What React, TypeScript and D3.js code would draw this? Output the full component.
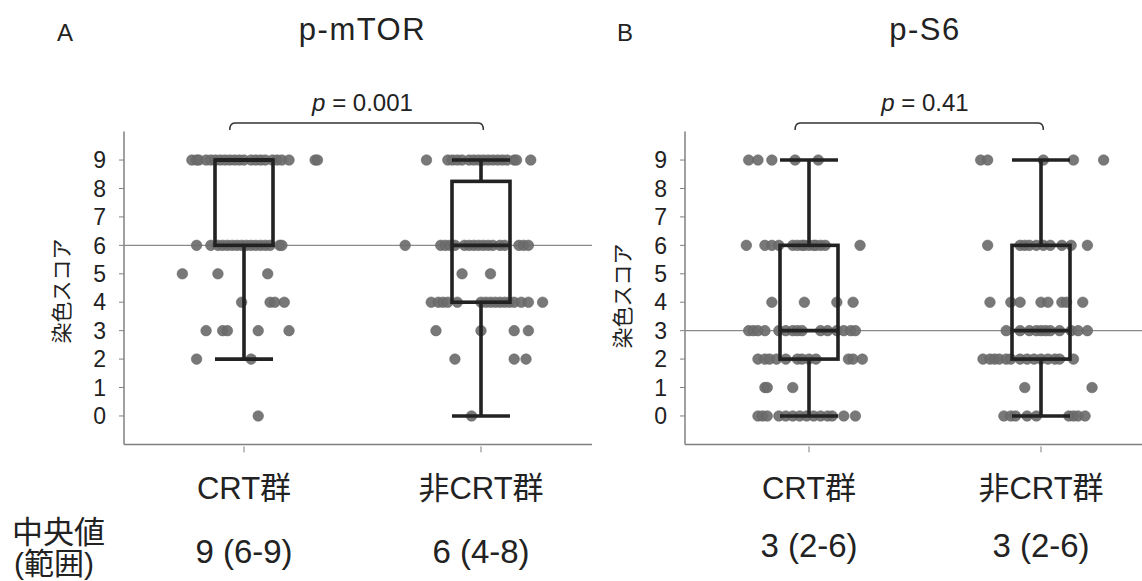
import React from "react";
import * as d3 from "d3";

// ---------- data ----------
const groups = ["CRT群", "非CRT群"];
const yTicks = [0, 1, 2, 3, 4, 5, 6, 7, 8, 9];

// each row: [score, horizontal jitter of each point in % of category spacing]
const mtorCrt: [number, number[]][] = [
  [9, [-22, -20, -19, -16, -14, -12, -10, -8, -6, -4, -2, 0, 3, 5, 7, 9, 12, 14, 16, 19, 30, 31]],
  [6, [-20, -14, -11, -9, -7, -5, -3, -1, 1, 3, 5, 7, 9, 11, 15, 16]],
  [5, [-26, -11, 10]],
  [4, [-1, 11, 13, 17]],
  [3, [-16, -9, -7, 6, 19]],
  [2, [-20, 3]],
  [0, [6]],
];
const mtorNon: [number, number[]][] = [
  [9, [-23, -14, -12, -10, -8, -5, -3, -1, 1, 3, 5, 7, 9, 11, 14, 15, 21]],
  [6, [-32, -17, -15, -13, -11, -7, -5, -3, -1, 1, 3, 5, 8, 10, 16, 18, 20]],
  [5, [-8, 4]],
  [4, [-21, -18, -16, -14, -10, 0, 2, 4, 6, 8, 10, 12, 14, 17, 20, 26]],
  [3, [-19, 0, 14, 20]],
  [2, [-11, 14, 19]],
  [0, [-4]],
];
const s6Crt: [number, number[]][] = [
  [9, [-26, -22, -16, -6, 4]],
  [6, [-27, -19, -16, -13, -7, -5, -3, -2, 0, 2, 3, 5, 7, 22]],
  [4, [-16, -2, 12, 19]],
  [3, [-26, -24, -22, -19, -13, -10, -7, -5, -3, 5, 8, 12, 15, 18, 20]],
  [2, [-22, -19, -17, -14, -10, -5, -3, 0, 3, 17, 19, 23]],
  [1, [-19, -18, -7]],
  [0, [-22, -20, -18, -13, -10, -7, -4, -1, 2, 5, 8, 10, 15, 20]],
];
const s6Non: [number, number[]][] = [
  [9, [-26, -23, 1, 14, 27]],
  [6, [-23, -9, -7, -5, -2, 1, 4, 9, 13, 20]],
  [4, [-22, -13, -9, 0, 3, 9, 11, 18]],
  [3, [-15, -9, -5, -2, 0, 2, 4, 8, 13, 16, 20]],
  [2, [-25, -22, -20, -18, -15, -13, -9, -6, -3, 0, 3, 6, 8, 14]],
  [1, [-7, 22]],
  [0, [-16, -13, -11, -6, -2, 12, 14, 16, 19]],
];

// box statistics per group [CRT, non-CRT]
const mtorQ1 = [6, 4];
const mtorMedian = [9, 6];
const mtorQ3 = [9, 8.25];
const mtorLow = [2, 0];
const mtorHigh = [9, 9];
const s6Q1 = [2, 2];
const s6Median = [3, 3];
const s6Q3 = [6, 6];
const s6Low = [0, 0];
const s6High = [9, 9];

const mtorMedianLabels = ["9 (6-9)", "6 (4-8)"];
const s6MedianLabels = ["3 (2-6)", "3 (2-6)"];

const mtorOverall = 6;
const s6Overall = 3;

// ---------- drawing ----------
const W = 1142;
const H = 581;
const yScale = d3.scaleLinear().domain([-1, 10]).range([444.4, 131.6]);
const AX = "#808080";
const TXT = "#222";
const FONT = "'Liberation Sans', Arial, 'Noto Sans CJK JP', sans-serif";
const CJK = "'Liberation Sans', 'Noto Sans CJK JP', sans-serif";

type PanelProps = {
  letter: string;
  letterX: number;
  title: string;
  pText: string;
  axisX: number;
  right: number;
  cats: [number, number];
  data: [number, number[]][][];
  q1: number[];
  med: number[];
  q3: number[];
  lo: number[];
  hi: number[];
  overall: number;
  medLabels: string[];
  medLabelY: number;
  yLabelX: number;
  yLabelY: number;
};

function Panel(p: PanelProps) {
  const x = d3.scaleLinear().domain([0, 1]).range(p.cats);
  const boxW = 58;
  const titleX = (p.cats[0] + p.cats[1]) / 2;
  const brL = x(-0.06);
  const brR = x(1.01);
  const brY = 123;
  const r = 5;
  const bracket = d3.path();
  bracket.moveTo(brL, brY + 7);
  bracket.quadraticCurveTo(brL, brY, brL + r, brY);
  bracket.lineTo(brR - r, brY);
  bracket.quadraticCurveTo(brR, brY, brR, brY + 7);
  return (
    <g>
      <text x={p.letterX} y={41} fontSize={24} fill={TXT} fontFamily={FONT}>{p.letter}</text>
      <text x={titleX} y={40} fontSize={31} fill={TXT} fontFamily={FONT} textAnchor="middle" letterSpacing={1.5}>{p.title}</text>
      <text x={titleX} y={111} fontSize={24} fill={TXT} fontFamily={FONT} textAnchor="middle">
        <tspan fontStyle="italic">p</tspan>
        {" = " + p.pText}
      </text>
      <path d={bracket.toString()} fill="none" stroke="#333" strokeWidth={1.5} />

      {/* axes */}
      <line x1={p.axisX} x2={p.axisX} y1={yScale(10)} y2={yScale(-1)} stroke={AX} strokeWidth={1.5} />
      <line x1={p.axisX} x2={p.right} y1={yScale(-1)} y2={yScale(-1)} stroke={AX} strokeWidth={1.5} />
      {yTicks.map((t) => (
        <g key={t}>
          <line x1={p.axisX - 5} x2={p.axisX} y1={yScale(t)} y2={yScale(t)} stroke={AX} strokeWidth={1} />
          <text x={p.axisX - 18} y={yScale(t)} dy="0.36em" fontSize={23} fill={TXT} fontFamily={FONT} textAnchor="end">{t}</text>
        </g>
      ))}
      {groups.map((g, i) => (
        <line key={g} x1={x(i)} x2={x(i)} y1={yScale(-1) + 2} y2={yScale(-1) + 8} stroke={AX} strokeWidth={1} />
      ))}
      <text transform={`translate(${p.yLabelX},${p.yLabelY}) rotate(-90)`} fontSize={21} fill={TXT} fontFamily={CJK} textAnchor="middle" dy="0.35em">染色スコア</text>

      {/* overall median line */}
      <line x1={p.axisX} x2={p.right} y1={yScale(p.overall)} y2={yScale(p.overall)} stroke="#8a8a8a" strokeWidth={1.2} />

      {/* points */}
      {p.data.map((rows, gi) =>
        rows.map(([score, js]) =>
          js.map((j, k) => (
            <circle key={`${gi}-${score}-${k}`} cx={x(gi + j / 100)} cy={yScale(score)} r={5.3}
              fill="#6c6c6c" fillOpacity={0.92} stroke="#5c5c5c" strokeWidth={0.5} />
          ))
        )
      )}

      {/* boxes */}
      {groups.map((g, i) => {
        const cx = x(i);
        return (
          <g key={g} stroke="#222" strokeWidth={3.6} fill="none">
            <line x1={cx} x2={cx} y1={yScale(p.lo[i])} y2={yScale(p.q1[i])} />
            <line x1={cx} x2={cx} y1={yScale(p.q3[i])} y2={yScale(p.hi[i])} />
            <line x1={cx - boxW / 2} x2={cx + boxW / 2} y1={yScale(p.lo[i])} y2={yScale(p.lo[i])} />
            <line x1={cx - boxW / 2} x2={cx + boxW / 2} y1={yScale(p.hi[i])} y2={yScale(p.hi[i])} />
            <rect x={cx - boxW / 2} y={yScale(p.q3[i])} width={boxW} height={yScale(p.q1[i]) - yScale(p.q3[i])} />
            <line x1={cx - boxW / 2} x2={cx + boxW / 2} y1={yScale(p.med[i])} y2={yScale(p.med[i])} />
          </g>
        );
      })}

      {/* category labels + medians */}
      {groups.map((g, i) => (
        <g key={g}>
          <text x={x(i)} y={499} fontSize={31} fill={TXT} fontFamily={CJK} textAnchor="middle">{g}</text>
          <text x={x(i)} y={p.medLabelY} fontSize={33} fill={TXT} fontFamily={FONT} textAnchor="middle">{p.medLabels[i]}</text>
        </g>
      ))}
    </g>
  );
}

export default function App() {
  return (
    <svg width={W} height={H} style={{ position: "absolute", left: 0, top: 0, background: "#fff" }}>
      <rect width={W} height={H} fill="#fff" />
      <Panel letter="A" letterX={57} title="p-mTOR" pText="0.001" axisX={124} right={592} cats={[244, 481]}
        data={[mtorCrt, mtorNon]} q1={mtorQ1} med={mtorMedian} q3={mtorQ3} lo={mtorLow} hi={mtorHigh}
        overall={mtorOverall} medLabels={mtorMedianLabels} medLabelY={563} yLabelX={62} yLabelY={291} />
      <Panel letter="B" letterX={617} title="p-S6" pText="0.41" axisX={685} right={1142} cats={[809, 1041]}
        data={[s6Crt, s6Non]} q1={s6Q1} med={s6Median} q3={s6Q3} lo={s6Low} hi={s6High}
        overall={s6Overall} medLabels={s6MedianLabels} medLabelY={557} yLabelX={623} yLabelY={296} />
      <text x={12} y={543} fontSize={31} fill={TXT} fontFamily={CJK}>中央値</text>
      <text x={14} y={574} fontSize={30} fill={TXT} fontFamily={CJK}>(範囲)</text>
    </svg>
  );
}
